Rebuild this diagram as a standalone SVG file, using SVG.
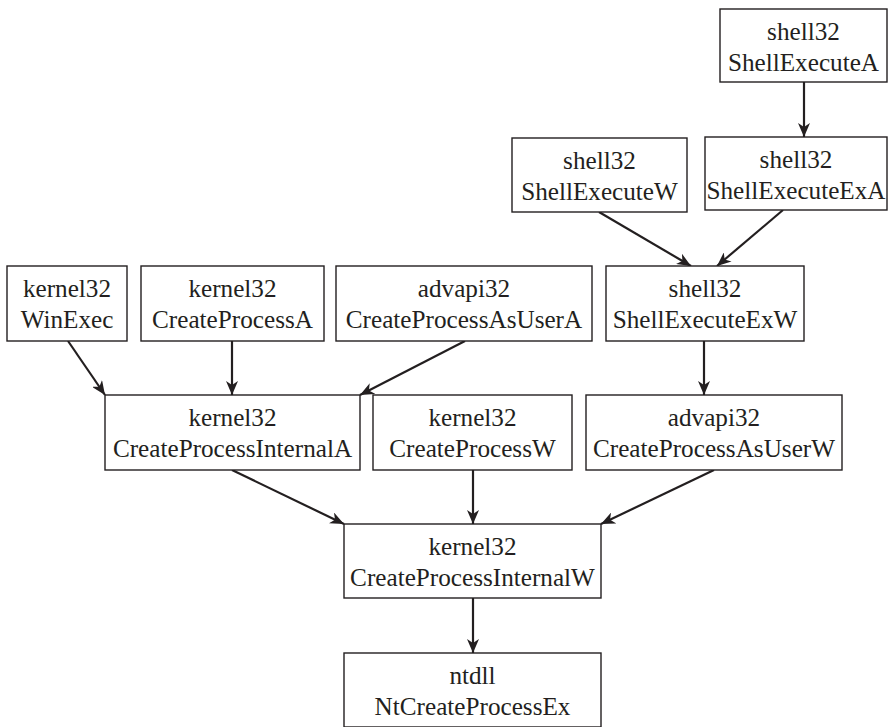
<svg xmlns="http://www.w3.org/2000/svg" width="894" height="727" viewBox="0 0 894 727">
<style>
.box{fill:#fff;stroke:#231f20;stroke-width:1.4}
.t{font-family:'Liberation Serif','DejaVu Serif',serif;font-size:25.2px;fill:#231f20;text-anchor:middle}
.e{stroke:#231f20;stroke-width:2.2;fill:none;marker-end:url(#ah)}
</style>
<defs>
<marker id="ah" viewBox="0 0 14 12" refX="14" refY="6" markerWidth="14" markerHeight="12" orient="auto" markerUnits="userSpaceOnUse">
<path d="M0,0 L14,6 L0,12 L4,6 z" fill="#231f20"/>
</marker>
</defs>
<rect width="894" height="727" fill="#fff"/>
<g id="edges">
<line class="e" x1="804" y1="82" x2="804" y2="137"/>
<line class="e" x1="599" y1="212" x2="691" y2="266"/>
<line class="e" x1="783" y1="210" x2="717" y2="266"/>
<line class="e" x1="704" y1="341" x2="704" y2="395"/>
<line class="e" x1="68" y1="341" x2="105" y2="395"/>
<line class="e" x1="232" y1="341" x2="232" y2="395"/>
<line class="e" x1="465" y1="341" x2="360" y2="395"/>
<line class="e" x1="232" y1="470" x2="344" y2="524"/>
<line class="e" x1="473" y1="470" x2="473" y2="524"/>
<line class="e" x1="714" y1="470" x2="601" y2="524"/>
<line class="e" x1="473" y1="598" x2="473" y2="653"/>
</g>
<g id="n_ShellExecuteA"><rect class="box" x="720" y="9" width="167" height="73"/><text class="t" x="803.5" y="40">shell32</text><text class="t" x="803.5" y="71">ShellExecuteA</text></g>
<g id="n_ShellExecuteW"><rect class="box" x="512" y="138" width="175" height="74"/><text class="t" x="599.5" y="169">shell32</text><text class="t" x="599.5" y="200">ShellExecuteW</text></g>
<g id="n_ShellExecuteExA"><rect class="box" x="705" y="137" width="182" height="73"/><text class="t" x="796" y="168">shell32</text><text class="t" x="796" y="199">ShellExecuteExA</text></g>
<g id="n_WinExec"><rect class="box" x="7" y="266" width="120" height="75"/><text class="t" x="67" y="297">kernel32</text><text class="t" x="67" y="328">WinExec</text></g>
<g id="n_CreateProcessA"><rect class="box" x="141" y="266" width="183" height="75"/><text class="t" x="232.5" y="297">kernel32</text><text class="t" x="232.5" y="328">CreateProcessA</text></g>
<g id="n_CreateProcessAsUserA"><rect class="box" x="336" y="266" width="256" height="75"/><text class="t" x="464" y="297">advapi32</text><text class="t" x="464" y="328">CreateProcessAsUserA</text></g>
<g id="n_ShellExecuteExW"><rect class="box" x="606" y="266" width="198" height="75"/><text class="t" x="705" y="297">shell32</text><text class="t" x="705" y="328">ShellExecuteExW</text></g>
<g id="n_CreateProcessInternalA"><rect class="box" x="105" y="395" width="255" height="75"/><text class="t" x="232.5" y="426">kernel32</text><text class="t" x="232.5" y="457">CreateProcessInternalA</text></g>
<g id="n_CreateProcessW"><rect class="box" x="373" y="395" width="199" height="75"/><text class="t" x="472.5" y="426">kernel32</text><text class="t" x="472.5" y="457">CreateProcessW</text></g>
<g id="n_CreateProcessAsUserW"><rect class="box" x="586" y="395" width="256" height="75"/><text class="t" x="714" y="426">advapi32</text><text class="t" x="714" y="457">CreateProcessAsUserW</text></g>
<g id="n_CreateProcessInternalW"><rect class="box" x="344" y="524" width="257" height="74"/><text class="t" x="472.5" y="555">kernel32</text><text class="t" x="472.5" y="586">CreateProcessInternalW</text></g>
<g id="n_NtCreateProcessEx"><rect class="box" x="344" y="653" width="257" height="74"/><text class="t" x="472.5" y="684">ntdll</text><text class="t" x="472.5" y="715">NtCreateProcessEx</text></g>
</svg>
